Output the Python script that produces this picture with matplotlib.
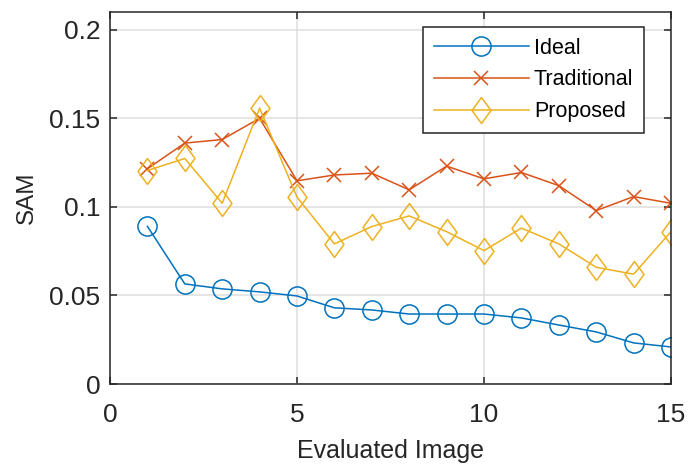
import matplotlib
matplotlib.use("Agg")
import matplotlib.pyplot as plt
from matplotlib.path import Path
import numpy as np

plt.rcParams['font.family'] = ['Liberation Sans', 'DejaVu Sans']

x = list(range(1, 16))
ideal = [0.089, 0.0565, 0.0537, 0.052, 0.0497, 0.043, 0.0418, 0.0395, 0.0395,
         0.0395, 0.0373, 0.0333, 0.0294, 0.0232, 0.0209]
traditional = [0.1215, 0.136, 0.138, 0.150, 0.1147, 0.118, 0.119, 0.1096, 0.123,
               0.1158, 0.1194, 0.112, 0.0979, 0.1058, 0.102]
proposed = [0.1205, 0.1273, 0.102, 0.1557, 0.1055, 0.0791, 0.0889, 0.0949, 0.086,
            0.0753, 0.088, 0.0791, 0.0659, 0.062, 0.086]
labels = ['Ideal', 'Traditional', 'Proposed']
xticks = [0, 5, 10, 15]
yticks = [0, 0.05, 0.1, 0.15, 0.2]
yticklabels = ['0', '0.05', '0.1', '0.15', '0.2']

c1, c2, c3 = '#0072BD', '#D95319', '#EDB120'
diamond = Path([(0, 1), (0.73, 0), (0, -1), (-0.73, 0), (0, 1)],
               [Path.MOVETO, Path.LINETO, Path.LINETO, Path.LINETO, Path.CLOSEPOLY])

fig = plt.figure(figsize=(6.89, 4.68), dpi=100)
ax = fig.add_axes([110/689, 1-384/468, 561/689, 372/468])

lw = 1.1
ax.plot(x, ideal, color=c1, lw=lw, marker='o', ms=13.8, mfc='none', mew=lw, label=labels[0])
ax.plot(x, traditional, color=c2, lw=lw, marker='x', ms=10, mew=lw, label=labels[1])
ax.plot(x, proposed, color=c3, lw=lw, marker=diamond, ms=18.7, mfc='none', mew=lw, label=labels[2])

ax.set_xlim(0, 15)
ax.set_ylim(0, 0.21)
ax.set_xticks(xticks)
ax.set_xticklabels([str(t) for t in xticks])
ax.set_yticks(yticks)
ax.set_yticklabels(yticklabels)
ax.grid(True, color='#dedede', lw=1.1)
ax.set_axisbelow(True)
for s in ax.spines.values():
    s.set_color('#262626')
    s.set_linewidth(1.1)
ax.tick_params(direction='in', length=5, width=1.1, colors='#262626',
               top=True, right=True, labelsize=19)
ax.tick_params(axis='x', pad=14)
ax.tick_params(axis='y', pad=7)
ax.set_xlabel('Evaluated Image', fontsize=18, color='#262626', labelpad=8.5)
ax.set_ylabel('SAM', fontsize=17.5, color='#262626', labelpad=8)

leg = ax.legend(loc='upper left', bbox_to_anchor=(0.558, 0.96), borderaxespad=0,
                fontsize=15.5, handlelength=4.4, handletextpad=0.25, labelspacing=0.5,
                borderpad=0.5, fancybox=False, framealpha=1, edgecolor='#262626')
leg.get_frame().set_linewidth(1.1)

fig.savefig('out.png', dpi=100)
